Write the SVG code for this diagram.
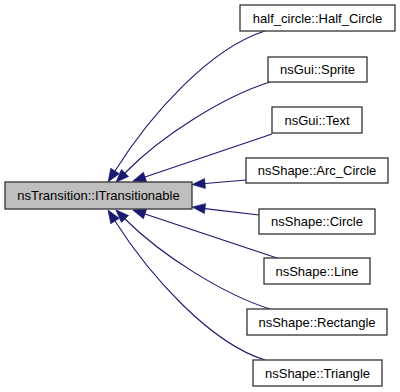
<svg xmlns="http://www.w3.org/2000/svg" width="400" height="392" viewBox="0 0 400 392">
  <defs>
    <marker id="arrow" markerUnits="userSpaceOnUse" markerWidth="13" markerHeight="10" refX="0" refY="5" orient="auto" viewBox="0 0 13 10" overflow="visible">
      <path d="M0,0 L13,5 L0,10 z" fill="#191970" stroke="#191970" stroke-width="0.6"/>
    </marker>
    <style>
      .node rect { fill: #ffffff; stroke: #333333; stroke-width: 1.3; }
      .node.root rect { fill: #bfbfbf; }
      .node text { font-family: "Liberation Sans", Arial, Helvetica, sans-serif; font-size: 13px; fill: #000000; text-anchor: middle; }
      .edge { fill: none; stroke: #191970; stroke-width: 1.1; marker-end: url(#arrow); }
    </style>
  </defs>
  <rect width="400" height="392" fill="#ffffff"/>

  <!-- inheritance edges: derived class -> base -->
  <g id="edges">
    <path class="edge" d="M265,31 C210,48 150,115 115,171"/>
    <path class="edge" d="M270,82 C225,96 162,135 125,173"/>
    <path class="edge" d="M272,134 L145,177"/>
    <path class="edge" d="M246,180 L205,183.5"/>
    <path class="edge" d="M259,215 L205,208.6"/>
    <path class="edge" d="M277,258 L145,214"/>
    <path class="edge" d="M270,309 C225,295 162,256 125,219"/>
    <path class="edge" d="M265,360 C210,343 150,276 115,221"/>
  </g>

  <g id="ITransitionable" class="node root">
    <rect x="5" y="182" width="187" height="27"/>
    <text x="98.5" y="200">nsTransition::ITransitionable</text>
  </g>
  <g id="Half_Circle" class="node">
    <rect x="240" y="5" width="155" height="26"/>
    <text x="317.5" y="22.5">half_circle::Half_Circle</text>
  </g>
  <g id="Sprite" class="node">
    <rect x="268" y="57" width="99" height="25"/>
    <text x="317.5" y="74">nsGui::Sprite</text>
  </g>
  <g id="Text" class="node">
    <rect x="272" y="107" width="90" height="26"/>
    <text x="317" y="124.5">nsGui::Text</text>
  </g>
  <g id="Arc_Circle" class="node">
    <rect x="246" y="158" width="142" height="25"/>
    <text x="317" y="175">nsShape::Arc_Circle</text>
  </g>
  <g id="Circle" class="node">
    <rect x="259" y="209" width="116" height="25"/>
    <text x="317" y="226">nsShape::Circle</text>
  </g>
  <g id="Line" class="node">
    <rect x="264" y="258" width="106" height="26"/>
    <text x="317" y="275.5">nsShape::Line</text>
  </g>
  <g id="Rectangle" class="node">
    <rect x="247" y="309" width="140" height="26"/>
    <text x="317" y="326.5">nsShape::Rectangle</text>
  </g>
  <g id="Triangle" class="node">
    <rect x="253" y="360" width="129" height="26"/>
    <text x="317.5" y="377.5">nsShape::Triangle</text>
  </g>
</svg>
